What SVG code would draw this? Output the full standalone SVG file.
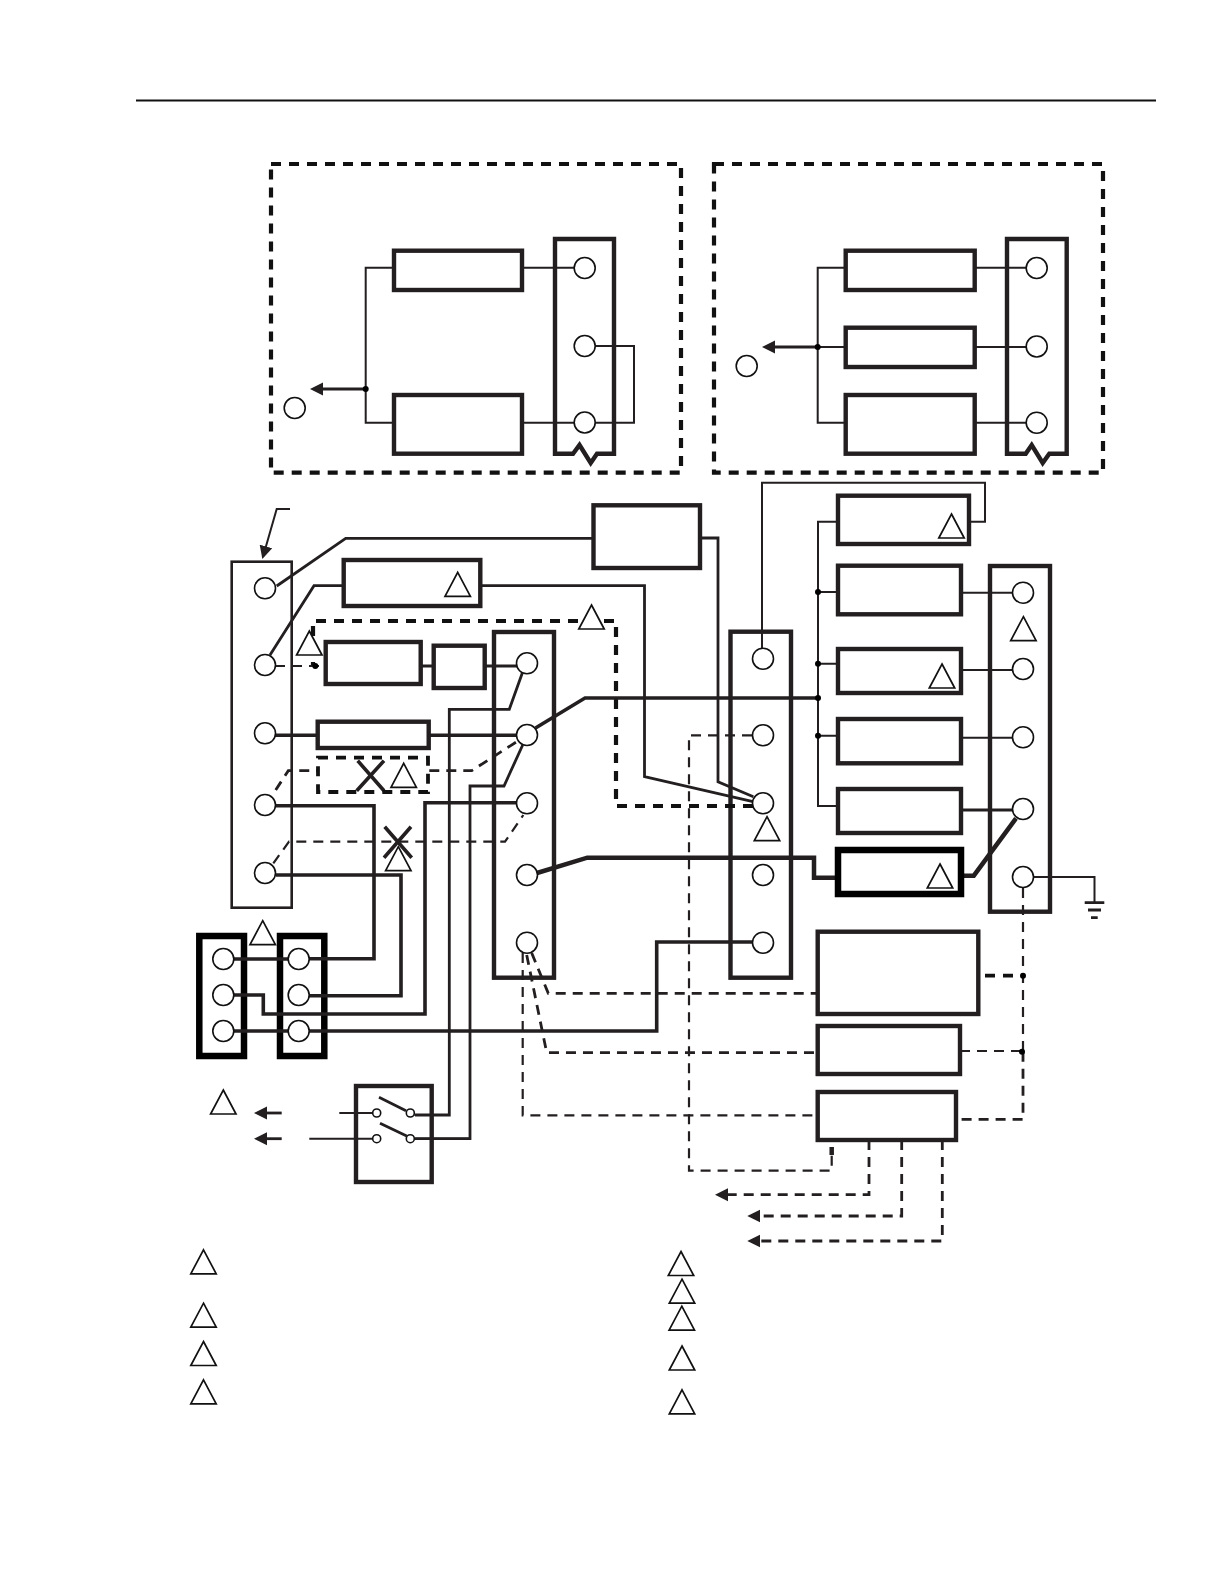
<svg xmlns="http://www.w3.org/2000/svg" xmlns:xlink="http://www.w3.org/1999/xlink" width="1224" height="1584" viewBox="0 0 1224 1584">
<style>
.w1{fill:none;stroke:#231f20;stroke-width:2}
.w2{fill:none;stroke:#231f20;stroke-width:2.8}
.w3{fill:none;stroke:#231f20;stroke-width:3.6}
.w4{fill:none;stroke:#231f20;stroke-width:4.5}
.d1{fill:none;stroke:#231f20;stroke-width:2.2;stroke-dasharray:10 7}
.d2{fill:none;stroke:#231f20;stroke-width:2.8;stroke-dasharray:10 7}
.d3{fill:none;stroke:#111;stroke-width:3.8;stroke-dasharray:10 8}
.d4{fill:none;stroke:#111;stroke-width:4.2;stroke-dasharray:10 8}
.box{fill:#fff;stroke:#231f20;stroke-width:4.4}
.boxh{fill:#fff;stroke:#000;stroke-width:6.5}
.strip{fill:none;stroke:#231f20;stroke-width:4.4}
.stripl{fill:none;stroke:#231f20;stroke-width:2.6}
.striph{fill:none;stroke:#000;stroke-width:6.5}
.c{fill:#fff;stroke:#111;stroke-width:1.6}
.dot{fill:#000}
.tri{fill:#fff;stroke:#111;stroke-width:1.7}
.arr{marker-end:url(#ah)}
</style>
<defs>
<marker id="ah" markerUnits="userSpaceOnUse" markerWidth="14" markerHeight="14" refX="7" refY="6.5" orient="auto" viewBox="0 0 14 13"><path d="M0 0L13 6.500L0 13Z" fill="#231f20"/></marker>
<polygon id="t" class="tri" points="0,0 12.700,24 -12.700,24"/>
</defs>
<rect width="1224" height="1584" fill="#fff"/>
<path id="header-rule" d="M136 100.500H1156" fill="none" stroke="#111" stroke-width="2"/>

<g id="enclosures">
<rect x="271" y="164" width="410" height="308.700" class="d4"/>
<rect x="714" y="164" width="389" height="308.700" class="d4"/>
</g>

<g id="strip-bodies">
<path id="strip-a" class="strip" d="M555 239H614V453.700H597L590.700 463L579.500 445L573 453.700H555Z"/>
<path id="strip-b" class="strip" d="M1007 239H1066.700V453.700H1049.300L1042.700 463L1031.700 445L1025.700 453.700H1007Z"/>
<rect id="strip-left" class="stripl" x="231.700" y="561.700" width="60" height="346"/>
<rect id="strip-mid" class="strip" x="494" y="632" width="60" height="345.700"/>
<rect id="strip-mid2" class="strip" x="730.500" y="631.700" width="60.500" height="346"/>
<rect id="strip-right" class="strip" x="990" y="566" width="60" height="345.700"/>
<rect id="conn-a" class="striph" x="199.300" y="936" width="44.700" height="120"/>
<rect id="conn-b" class="striph" x="280" y="936" width="44.300" height="120"/>
</g>

<g id="connectors">
<path class="w1" d="M522 267.700H574M522 422.700H574M394 267.700H365.700V422.700H394M595 346H634V422.700H595"/>
<path class="w2 arr" d="M365.700 389H316"/>
<path class="w1" d="M974.700 267.700H1026M974.700 347H1026M974.700 422.700H1026M845.700 267.700H817.700V422.700H845.700M845.700 347H817.700"/>
<path class="w2 arr" d="M817.700 347H768"/>
<path class="w1 arr" d="M290 509H276.700L264 553.200"/>
<path class="w2" d="M276.700 586L345.700 538.300H593M700 538H718V781.700L753.400 796.700"/>
<path class="w2" d="M270 655L314 585.700H344M480 585.700H644.500V776.700L753 801.700"/>
<path class="d4" d="M753 806H616V621H313V666"/>
<path class="d1" d="M275 666H320"/>
<path class="w2" d="M420.700 666H434M484.700 666H517"/>
<path class="w2" d="M522.300 673L509.300 709.300H449.300V1115H415"/>
<path class="w2" d="M522.700 745L504 786H470V1138.700H415"/>
<path class="w3" d="M275 735.300H318M428.700 735.300H517"/>
<path class="w3" d="M535.500 728L585 698H818"/>
<path class="d2" d="M275.700 790L288.300 770.700H317M429.300 770.700H471.700L516.700 741.700"/>
<path class="d1" d="M273.300 863.300L289 841.700H505L523.300 815"/>
<path class="w3" d="M276 805.700H374V958.700H309"/>
<path class="w3" d="M276 875H401V995.700H309"/>
<path class="w3" d="M516 802.700H425V1014H263.300V995H234"/>
<path class="w3" d="M234 959H288M234 1031H288M309 1031H656.700V942H752"/>
<path class="w4" d="M537 873L587.300 857.700H814V877.700H838M961 875.700H973.800L1016 818.300"/>
<path class="w1" d="M762 648V482.700H985V521.700H969M838 521.700H818V806H838"/>
<path class="w1" d="M818 592H838M818 663.700H838M818 735.700H838"/>
<path class="w1" d="M961 592.700H1013M961 670H1013M961 737.700H1013"/>
<path class="w2" d="M961 810H1013"/>
<path class="w1" d="M1033.500 877H1094.500V903"/>
<path class="w2" d="M1084.700 902.700H1104.300M1088 910H1101M1091 917.700H1097.700"/>
<path class="d1" d="M752 735.300H689V1170.700H831.700V1150"/>
<path class="w4" d="M831.700 1155V1144" stroke-dasharray="8 3"/>
<path class="d1" d="M1023 888V1051.700"/>
<path class="d2" d="M1023 1051.700V1119.300H956"/>
<path class="d3" d="M985 975.700H1023"/>
<path class="d1" d="M960 1051H1022"/>
<path class="d1" d="M522.700 953V1115.300H817.700"/>
<path class="d2" d="M526.700 955L546.700 1052.700H817.700"/>
<path class="d2" d="M531.700 953L548.300 993.300H817.700"/>
<path class="d2 arr" d="M869 1140V1194.700H721"/>
<path class="d2 arr" d="M901.700 1140V1216H753.300"/>
<path class="d2 arr" d="M942.300 1140V1241H753.300"/>
<path class="w1" d="M339.300 1113H372.700M309.300 1138.700H372.700M414.300 1115H449.300M414.300 1138.700H470"/>
<path class="w2" d="M379 1097.300L406 1110.700M380 1123.300L406.700 1136"/>
<path class="w2 arr" d="M281.700 1113H260"/>
<path class="w2 arr" d="M281.700 1138.700H260"/>
<path class="w3" d="M357.700 760.700L384 790.700M384 760.700L356.700 790.700M384.700 826.700L411.700 857.700M411 826.700L384 857.700"/>
</g>

<g id="dashed-relay"><rect x="318" y="757.700" width="110" height="34.300" class="d3"/></g>

<g id="node-a1"><rect class="box" x="394" y="250.700" width="128" height="39.300"/></g>
<g id="node-a2"><rect class="box" x="394" y="395" width="128" height="58.700"/></g>
<g id="node-b1"><rect class="box" x="845.700" y="250.700" width="129" height="39.300"/></g>
<g id="node-b2"><rect class="box" x="845.700" y="327.700" width="129" height="39.300"/></g>
<g id="node-b3"><rect class="box" x="845.700" y="395" width="129" height="58.700"/></g>
<g id="node-top"><rect class="box" x="593.500" y="505.300" width="106.500" height="62.700"/></g>
<g id="node-l1"><rect class="box" x="343.700" y="560" width="136.600" height="46"/><use xlink:href="#t" href="#t" x="457.700" y="572.300"/></g>
<g id="node-l2"><rect class="box" x="325.700" y="642" width="95" height="42"/></g>
<g id="node-l3"><rect class="box" x="433.700" y="645.700" width="51" height="42.300"/></g>
<g id="node-l4"><rect class="box" x="317.700" y="721.700" width="111" height="26.300"/></g>
<g id="node-r1"><rect class="box" x="838" y="495.700" width="131" height="48.300"/><use xlink:href="#t" href="#t" x="951.500" y="514"/></g>
<g id="node-r2"><rect class="box" x="838" y="565.700" width="123" height="48.600"/></g>
<g id="node-r3"><rect class="box" x="838" y="649" width="123" height="44"/><use xlink:href="#t" href="#t" x="942" y="664"/></g>
<g id="node-r4"><rect class="box" x="838" y="719" width="123" height="44.300"/></g>
<g id="node-r5"><rect class="box" x="838" y="789" width="123" height="44"/></g>
<g id="node-r6"><rect class="boxh" x="838" y="850" width="123" height="44"/><use xlink:href="#t" href="#t" x="940" y="864"/></g>
<g id="node-b-large"><rect class="box" x="817.700" y="931.700" width="160.600" height="82.300"/></g>
<g id="node-b-mid"><rect class="box" x="817.700" y="1026" width="142.300" height="48"/></g>
<g id="node-b-low"><rect class="box" x="817.700" y="1092" width="138.300" height="48"/></g>
<g id="node-switch"><rect class="box" style="fill:none" x="356" y="1086" width="75.700" height="96"/>
<circle class="c" cx="376.700" cy="1113" r="4"/><circle class="c" cx="410.300" cy="1113" r="4"/><circle class="c" cx="376.700" cy="1138.700" r="4"/><circle class="c" cx="410.300" cy="1138.700" r="4"/></g>

<g id="terminals">
<circle class="c" cx="584.700" cy="268" r="10.500"/><circle class="c" cx="584.700" cy="346" r="10.500"/><circle class="c" cx="584.700" cy="422.500" r="10.500"/>
<circle class="c" cx="294.700" cy="408" r="10.500"/>
<circle class="c" cx="1036.700" cy="268" r="10.500"/><circle class="c" cx="1036.700" cy="346.500" r="10.500"/><circle class="c" cx="1036.700" cy="422.700" r="10.500"/>
<circle class="c" cx="746.700" cy="366" r="10.500"/>
<circle class="c" cx="265" cy="588.300" r="10.500"/><circle class="c" cx="265" cy="665" r="10.500"/><circle class="c" cx="265" cy="733.300" r="10.500"/><circle class="c" cx="265" cy="805" r="10.500"/><circle class="c" cx="265" cy="873" r="10.500"/>
<circle class="c" cx="527" cy="663.300" r="10.500"/><circle class="c" cx="527" cy="735" r="10.500"/><circle class="c" cx="527" cy="803.300" r="10.500"/><circle class="c" cx="527" cy="875" r="10.500"/><circle class="c" cx="527" cy="942.700" r="10.500"/>
<circle class="c" cx="763" cy="658.700" r="10.500"/><circle class="c" cx="763" cy="735.300" r="10.500"/><circle class="c" cx="763" cy="803.300" r="10.500"/><circle class="c" cx="763" cy="875" r="10.500"/><circle class="c" cx="763" cy="942.700" r="10.500"/>
<circle class="c" cx="1023" cy="592.700" r="10.500"/><circle class="c" cx="1023" cy="669" r="10.500"/><circle class="c" cx="1023" cy="737.300" r="10.500"/><circle class="c" cx="1023" cy="809" r="10.500"/><circle class="c" cx="1023" cy="877" r="10.500"/>
<circle class="c" cx="223.300" cy="959" r="10.500"/><circle class="c" cx="223.300" cy="995" r="10.500"/><circle class="c" cx="223.300" cy="1031" r="10.500"/>
<circle class="c" cx="298.700" cy="959" r="10.500"/><circle class="c" cx="298.700" cy="995" r="10.500"/><circle class="c" cx="298.700" cy="1031" r="10.500"/>
</g>

<g id="junctions">
<circle class="dot" cx="365.700" cy="389" r="3"/><circle class="dot" cx="817.700" cy="347" r="3"/><circle class="dot" cx="315.300" cy="666" r="3"/>
<circle class="dot" cx="818" cy="592" r="3"/><circle class="dot" cx="818" cy="663.700" r="3"/><circle class="dot" cx="818" cy="698" r="3"/><circle class="dot" cx="818" cy="735.700" r="3"/>
<circle class="dot" cx="1023" cy="975.700" r="3"/><circle class="dot" cx="1022" cy="1051.700" r="3"/>
</g>

<g id="flags">
<use xlink:href="#t" href="#t" x="309.300" y="631"/>
<use xlink:href="#t" href="#t" x="403.700" y="763.300"/>
<use xlink:href="#t" href="#t" x="398.300" y="846.700"/>
<use xlink:href="#t" href="#t" x="591.500" y="605"/>
<use xlink:href="#t" href="#t" x="767" y="816.700"/>
<use xlink:href="#t" href="#t" x="1023.400" y="616.700"/>
<use xlink:href="#t" href="#t" x="262.700" y="920.700"/>
<use xlink:href="#t" href="#t" x="223.300" y="1090"/>
<use xlink:href="#t" href="#t" x="203.500" y="1249.800"/>
<use xlink:href="#t" href="#t" x="203.500" y="1303.200"/>
<use xlink:href="#t" href="#t" x="203.500" y="1341.500"/>
<use xlink:href="#t" href="#t" x="203.500" y="1379.800"/>
<use xlink:href="#t" href="#t" x="681" y="1251.500"/>
<use xlink:href="#t" href="#t" x="682" y="1279.200"/>
<use xlink:href="#t" href="#t" x="681.800" y="1306.200"/>
<use xlink:href="#t" href="#t" x="682" y="1346"/>
<use xlink:href="#t" href="#t" x="682" y="1389.800"/>
</g>
</svg>
